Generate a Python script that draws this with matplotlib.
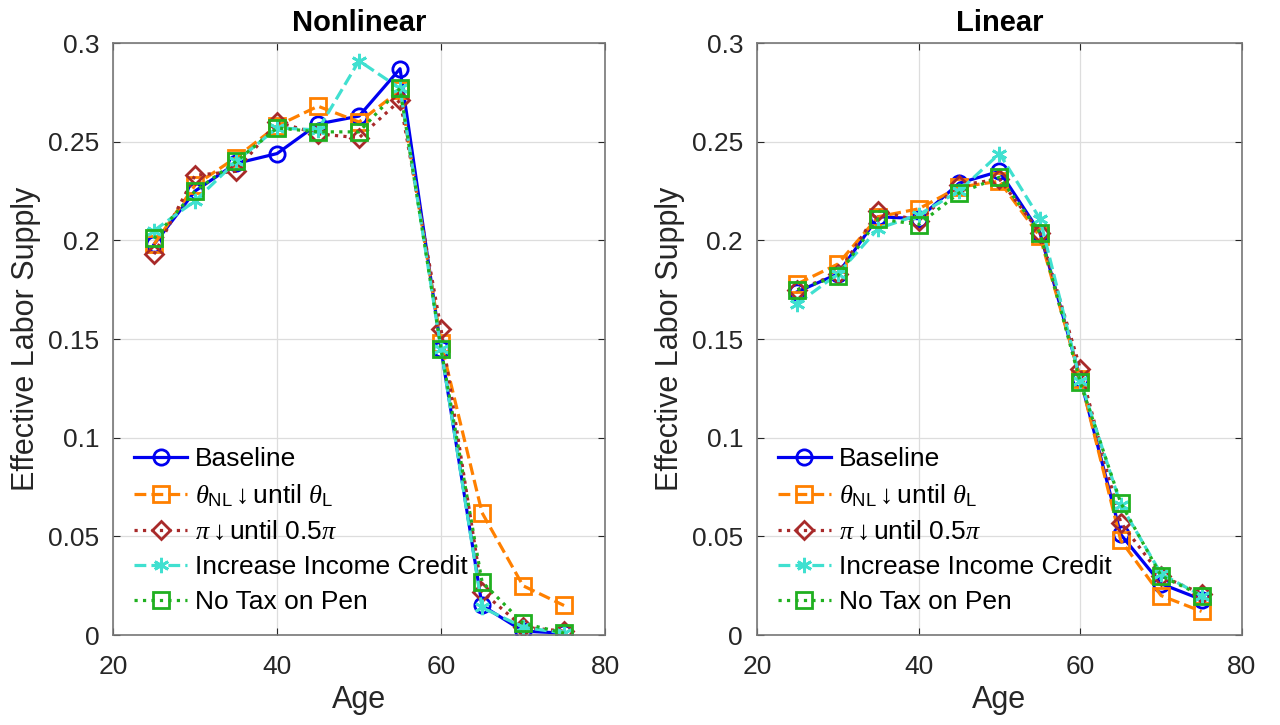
import numpy as np
import matplotlib
matplotlib.use("Agg")
import matplotlib.pyplot as plt

plt.rcParams['font.family'] = ['Liberation Sans', 'DejaVu Sans']
plt.rcParams['mathtext.fontset'] = 'custom'
plt.rcParams['mathtext.rm'] = 'Liberation Sans'
plt.rcParams['mathtext.it'] = 'Liberation Serif:italic'
plt.rcParams['mathtext.bf'] = 'Liberation Sans:bold'

#============================================
ages = [25, 30, 35, 40, 45, 50, 55, 60, 65, 70, 75]

labels = ["Baseline",
          r"$\theta_{\mathrm{NL}}\downarrow$until $\theta_{\mathrm{L}}$",
          r"$\pi\downarrow$until 0.5$\pi$",
          "Increase Income Credit",
          "No Tax on Pen"]

# Nonlinear panel
nl_baseline = [0.198, 0.225, 0.239, 0.244, 0.259, 0.263, 0.287, 0.145, 0.015, 0.002, 0.001]
nl_theta    = [0.198, 0.228, 0.242, 0.258, 0.268, 0.260, 0.276, 0.148, 0.062, 0.025, 0.015]
nl_pi       = [0.193, 0.233, 0.235, 0.260, 0.254, 0.252, 0.271, 0.155, 0.022, 0.004, 0.002]
nl_credit   = [0.205, 0.220, 0.240, 0.257, 0.256, 0.291, 0.277, 0.145, 0.014, 0.004, 0.001]
nl_notax    = [0.201, 0.225, 0.240, 0.257, 0.255, 0.255, 0.277, 0.145, 0.027, 0.006, 0.001]

# Linear panel
l_baseline = [0.174, 0.183, 0.212, 0.211, 0.229, 0.235, 0.204, 0.130, 0.051, 0.026, 0.018]
l_theta    = [0.178, 0.188, 0.212, 0.216, 0.227, 0.230, 0.202, 0.130, 0.048, 0.020, 0.012]
l_pi       = [0.175, 0.183, 0.215, 0.210, 0.228, 0.231, 0.204, 0.135, 0.057, 0.030, 0.021]
l_credit   = [0.168, 0.183, 0.206, 0.213, 0.225, 0.244, 0.211, 0.129, 0.066, 0.031, 0.020]
l_notax    = [0.175, 0.182, 0.211, 0.208, 0.224, 0.232, 0.204, 0.128, 0.067, 0.030, 0.020]

styles = [dict(color="#0000F0", ls="-", marker="o"),
          dict(color="#FF8000", ls="--", marker="s"),
          dict(color="#A82A2A", ls=":", marker="D"),
          dict(color="#40E0D0", ls="--", marker=(6, 2, 0)),
          dict(color="#20B020", ls=":", marker="s")]
#============================================


def draw(ax, series, title):
    for s, y, lab in zip(styles, series, labels):
        ms = 11 if s["marker"] != "D" else 9.5
        ax.plot(ages, y, color=s["color"], linestyle=s["ls"], marker=s["marker"],
                markersize=ms, markerfacecolor="none", markeredgewidth=2,
                linewidth=2.3, label=lab)
    ax.set_xlim(20, 80)
    ax.set_ylim(0, 0.3)
    ax.set_xticks([20, 40, 60, 80])
    ax.set_yticks([0, 0.05, 0.1, 0.15, 0.2, 0.25, 0.3])
    ax.set_yticklabels(["0", "0.05", "0.1", "0.15", "0.2", "0.25", "0.3"])
    ax.grid(True, color="#dddddd", linewidth=0.9)
    ax.set_axisbelow(True)
    ax.tick_params(direction="in", top=True, right=True, labelsize=19,
                   colors="#262626", length=5)
    ax.tick_params(axis="x", pad=14)
    ax.tick_params(axis="y", pad=10)
    for sp in ax.spines.values():
        sp.set_color("#777777")
        sp.set_linewidth(1.2)
    ax.set_title(title, fontsize=21, fontweight="bold", pad=9)
    ax.set_xlabel("Age", fontsize=22, color="#262626", labelpad=5)
    ax.set_ylabel("Effective Labor Supply", fontsize=22, color="#262626", labelpad=5)
    ax.legend(loc="lower left", frameon=False, fontsize=19, handlelength=2.0,
              labelspacing=0.42, borderaxespad=0.5, handletextpad=0.3,
              borderpad=0.3)


def main():
    fig = plt.figure(figsize=(12.8, 7.25), dpi=100)
    ax1 = fig.add_axes([0.0883, 0.124, 0.3844, 0.8166])
    ax2 = fig.add_axes([0.5914, 0.124, 0.3789, 0.8166])
    draw(ax1, [nl_baseline, nl_theta, nl_pi, nl_credit, nl_notax], "Nonlinear")
    draw(ax2, [l_baseline, l_theta, l_pi, l_credit, l_notax], "Linear")
    fig.savefig("out.png", dpi=100)


if __name__ == '__main__':
    main()
